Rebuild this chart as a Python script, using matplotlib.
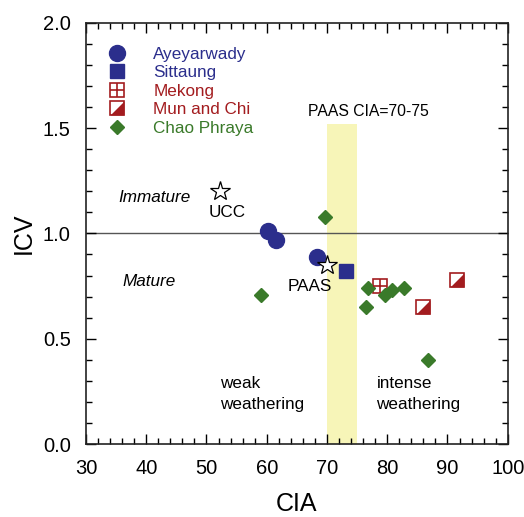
import matplotlib
matplotlib.use('Agg')
import matplotlib.pyplot as plt
from matplotlib.ticker import MultipleLocator

plt.rcParams['font.family'] = ['Liberation Sans', 'DejaVu Sans']

# data (CIA, ICV)
ayey_cia = [60.2, 61.6, 68.4]
ayey_icv = [1.01, 0.97, 0.89]
sitt_cia = [73.2]
sitt_icv = [0.82]
mekong_cia = [78.8]
mekong_icv = [0.75]
munchi_cia = [91.6, 85.9]
munchi_icv = [0.78, 0.65]
chao_cia = [69.6, 59.0, 76.8, 76.4, 79.6, 80.8, 82.7, 86.8]
chao_icv = [1.08, 0.71, 0.74, 0.65, 0.71, 0.73, 0.74, 0.40]
ref_names = ['UCC', 'PAAS']
ref_cia = [52.3, 70.0]
ref_icv = [1.20, 0.85]

navy = '#2b2e8c'
red = '#a31c1f'
green = '#3a7a2a'

fig = plt.figure(figsize=(5.24, 5.17), dpi=100)
ax = fig.add_axes([0.164, 0.141, 0.805, 0.815])

ax.axvspan(70, 75, ymin=0, ymax=1.52 / 2.0, color='#f7f5b8', lw=0, zorder=0)
ax.axhline(1.0, color='#555555', lw=1.0, zorder=1)

h1, = ax.plot(ayey_cia, ayey_icv, 'o', color=navy, ms=11.5, ls='none', zorder=3)
h2, = ax.plot(sitt_cia, sitt_icv, 's', color=navy, ms=10, ls='none', zorder=3)
m1, = ax.plot(mekong_cia, mekong_icv, 's', mfc='white', mec=red, mew=1.2, ms=10, ls='none', zorder=3)
m2, = ax.plot(mekong_cia, mekong_icv, '+', color=red, mew=1.2, ms=10, ls='none', zorder=4)
tri = [(-1, -1), (1, -1), (1, 1), (-1, -1)]
c1, = ax.plot(munchi_cia, munchi_icv, 's', mfc='white', mec=red, mew=1.2, ms=10, ls='none', zorder=3)
c2, = ax.plot(munchi_cia, munchi_icv, marker=tri, color=red, mew=0, ms=10, ls='none', zorder=4)
h5, = ax.plot(chao_cia, chao_icv, 'D', color=green, ms=7, ls='none', zorder=3)
ax.plot(ref_cia, ref_icv, '*', mfc='white', mec='black', mew=0.9, ms=15, ls='none', zorder=5)

fs = 12.3
ax.text(53.4, 1.10, ref_names[0], fontsize=fs, ha='center', va='center')
ax.text(67.1, 0.75, ref_names[1], fontsize=fs, ha='center', va='center')
ax.text(41.4, 1.17, 'Immature', fontsize=fs, style='italic', ha='center', va='center')
ax.text(40.4, 0.77, 'Mature', fontsize=fs, style='italic', ha='center', va='center')
ax.text(76.8, 1.58, 'PAAS CIA=70-75', fontsize=11.3, ha='center', va='center')
ax.text(52.3, 0.237, 'weak\nweathering', fontsize=fs, ha='left', va='center', linespacing=1.5)
ax.text(78.2, 0.237, 'intense\nweathering', fontsize=fs, ha='left', va='center', linespacing=1.5)

leg = ax.legend([h1, h2, (m1, m2), (c1, c2), h5],
                ['Ayeyarwady', 'Sittaung', 'Mekong', 'Mun and Chi', 'Chao Phraya'],
                loc='upper left', bbox_to_anchor=(0.01, 0.975), frameon=False,
                fontsize=12.3, labelspacing=0.2, handletextpad=1.3, handlelength=1.6,
                borderpad=0.3, labelcolor=[navy, navy, red, red, green])

ax.set_xlim(30, 100)
ax.set_ylim(0, 2.0)
ax.xaxis.set_major_locator(MultipleLocator(10))
ax.xaxis.set_minor_locator(MultipleLocator(2))
ax.yaxis.set_major_locator(MultipleLocator(0.5))
ax.yaxis.set_minor_locator(MultipleLocator(0.1))
ax.yaxis.set_major_formatter(plt.FormatStrFormatter('%.1f'))
ax.tick_params(which='both', direction='in', top=True, right=True, labelsize=14.5, width=1.0)
ax.tick_params(which='major', length=7, pad=11)
ax.tick_params(which='minor', length=4)
for s in ax.spines.values():
    s.set_linewidth(1.2)
    s.set_color('#222222')

ax.set_xlabel('CIA', fontsize=18, labelpad=10)
ax.set_ylabel('ICV', fontsize=18, labelpad=5)

fig.savefig('out.png', dpi=100)
